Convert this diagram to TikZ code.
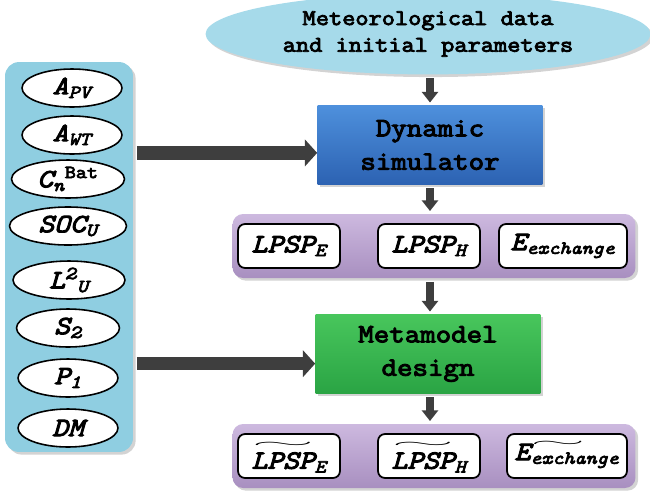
\documentclass[tikz,border=0pt]{standalone}
\usepackage{amsmath}
\usepackage{graphicx}
\usepackage{fontspec}
\setmonofont{Latin Modern Mono}[AutoFakeBold=3.8,FakeStretch=1.14]
\newfontfamily\varfont{lmmono10-italic.otf}[FakeBold=3.8,FakeStretch=1.14]
\usetikzlibrary{arrows.meta,shapes.geometric,shadows}
\definecolor{arrgray}{HTML}{3E3E3E}
\definecolor{metblue}{HTML}{A6DAEA}
\definecolor{panblue}{HTML}{8FCEE1}
\definecolor{simtop}{HTML}{4E90DC}
\definecolor{simbot}{HTML}{2C62B2}
\definecolor{mmtop}{HTML}{48C65C}
\definecolor{mmbot}{HTML}{2AA444}
\definecolor{restop}{HTML}{CDB9DF}
\definecolor{resbot}{HTML}{A88FC0}
\newcommand\tv[1]{\text{\varfont #1}}
\newcommand\tb[1]{\text{\ttfamily\bfseries #1}}
\newsavebox\tilbox
\newcommand\wtil[1]{\sbox\tilbox{#1}\overset{\resizebox{\wd\tilbox}{3pt}{$\sim$}}{\usebox\tilbox}}
\tikzset{
  shad/.style={drop shadow={opacity=0.35,shadow xshift=1.5pt,shadow yshift=-1.5pt}},
  arr/.style={draw=arrgray,line width=4pt,shorten <=2pt,shorten >=1.5pt,-{Triangle[width=9pt,length=6pt]}},
  bigarr/.style={draw=arrgray,line width=7.5pt,shorten <=2pt,-{Triangle[width=15pt,length=7pt]}},
  mainbox/.style={rectangle,shad,minimum width=4.5cm,minimum height=1.58cm,align=center,
    font=\fontsize{15}{19}\selectfont\ttfamily\bfseries},
  resbar/.style={rectangle,rounded corners=6pt,shad,top color=restop,bottom color=resbot,
    minimum width=8.06cm,minimum height=1.28cm},
  resbox/.style={rectangle,rounded corners=4pt,draw,line width=1pt,fill=white,
    minimum width=2.04cm,minimum height=0.88cm,inner sep=1pt,font=\fontsize{15}{18}\selectfont\ttfamily\bfseries},
  param/.style={ellipse,draw,line width=0.9pt,fill=white,inner sep=0pt,
    minimum width=2cm,minimum height=0.76cm,font=\fontsize{15}{18}\selectfont\ttfamily\bfseries}
}
\begin{document}
\begin{tikzpicture}[x=0.02cm,y=-0.02cm]
  \useasboundingbox (0,0) rectangle (650,495);
  % input data
  \node[ellipse,fill=metblue,shad,minimum width=8.9cm,minimum height=1.3cm,align=center,
    font=\fontsize{12.8}{15.2}\selectfont\ttfamily\bfseries] (met) at (428,34)
    {Meteorological data\\and initial parameters};

  % simulator and its outputs
  \node[mainbox,top color=simtop,bottom color=simbot] (sim) at (430,145) {Dynamic\\simulator};
  \node[resbar] (res1) at (434,246) {};
  \node[resbox] (lpspe) at (289,246) {$\tv{LPSP}_{\tv{E}}$};
  \node[resbox] (lpsph) at (429,246) {$\tv{LPSP}_{\tv{H}}$};
  \node[resbox,minimum width=2.56cm] (eex) at (563,246) {$\tv{E}_{\tv{exchange}}$};

  % metamodel and its outputs
  \node[mainbox,top color=mmtop,bottom color=mmbot] (mm) at (428,354) {Metamodel\\design};
  \node[resbar] (res2) at (434,456) {};
  \node[resbox] (tlpspe) at (289,456) {$\wtil{\tv{LPSP}}_{\tv{E}}$};
  \node[resbox] (tlpsph) at (429,456) {$\wtil{\tv{LPSP}}_{\tv{H}}$};
  \node[resbox,minimum width=2.4cm] (teex) at (567,456)
    {$\tv{E}_{\rlap{\smash{\raisebox{10pt}{\resizebox{1.1cm}{3pt}{$\sim$}}}}\tv{exchange}}$};

  % design parameters
  \node[rectangle,rounded corners=8pt,fill=panblue,shad,minimum width=2.56cm,minimum height=7.8cm]
    (pan) at (69,257) {};
  \node[param] (apv) at (72,88) {$\tv{A}_{\tv{PV}}$};
  \node[param] (awt) at (72,135) {$\tv{A}_{\tv{WT}}$};
  \node[param,minimum width=2.26cm] (cbat) at (68,179) {$\tv{C}_{\tv{n}}{}^{\tb{Bat}}$};
  \node[param,minimum width=2.34cm] (socu) at (68,226) {$\tv{SOC}_{\tv{U}}$};
  \node[param,minimum width=2.24cm] (ltwo) at (69,280) {$\tv{L}^{\tv{2}}{}_{\tv{U}}$};
  \node[param,minimum width=2.06cm] (stwo) at (68,328) {$\tv{S}_{\tv{2}}$};
  \node[param] (pone) at (68,378) {$\tv{P}_{\tv{1}}$};
  \node[param] (dm) at (68,428) {$\tv{DM}$};

  % connectors
  \coordinate (simin) at ([yshift=-4.5pt]sim.west);
  \coordinate (mmin) at ([yshift=-5.5pt]mm.west);
  \draw[arr] (met.south -| sim.north) -- (sim.north);
  \draw[arr] (sim.south) -- (sim.south |- res1.north);
  \draw[arr] (sim.south |- res1.south) -- (sim.south |- mm.north);
  \draw[arr] (sim.south |- mm.south) -- (sim.south |- res2.north);
  \draw[bigarr] (pan.east |- simin) -- (simin);
  \draw[bigarr] (pan.east |- mmin) -- (mmin);
\end{tikzpicture}
\end{document}
